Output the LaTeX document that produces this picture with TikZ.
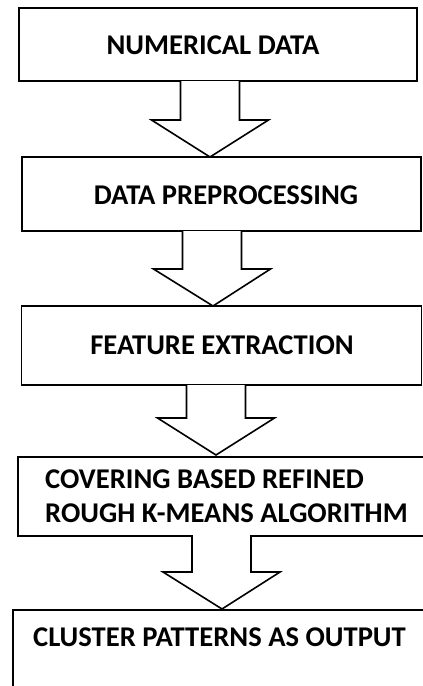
\documentclass[tikz,border=0pt]{standalone}
\usepackage{fontspec}
\setmainfont{Carlito}
\usetikzlibrary{calc}
\begin{document}
\begin{tikzpicture}[x=1pt,y=-1pt,
  box/.style={draw=black, line width=1.8pt, rectangle, inner sep=0pt},
  lbl/.style={inner sep=0pt, align=left, font=\fontsize{28.6}{34}\selectfont\bfseries},
  blk/.style={draw=black, line width=1.6pt, fill=white, line join=miter}]
\useasboundingbox (0,0) rectangle (423,686);
\clip (0,0) rectangle (423,686);
\fill[white] (0,0) rectangle (423,686);
\newcommand\blkarrow[2]{\draw[blk] let \p1=(#1), \p2=(#2) in
  (\x1-29.5pt,\y1) -- (\x1-29.5pt,\y2+37pt) -- (\x1-58.5pt,\y2+37pt) -- (\x2,\y2)
  -- (\x1+58.5pt,\y2+37pt) -- (\x1+29.5pt,\y2+37pt) -- (\x1+29.5pt,\y1);}
% boxes
\node[box, minimum width=398pt, minimum height=73pt] (b1) at (218,44.5) {};
\node[lbl] (b1t) at (213,45) {NUMERICAL DATA};
\node[box, minimum width=399pt, minimum height=74pt] (b2) at (221.5,194) {};
\node[lbl] (b2t) at (226,195) {DATA PREPROCESSING};
\node[box, minimum width=400pt, minimum height=79pt] (b3) at (221.5,345.5) {};
\node[lbl] (b3t) at (222,345) {FEATURE EXTRACTION};
\node[box, minimum width=430pt, minimum height=79pt, anchor=north west] (b4) at (17,456) {};
\node[lbl, anchor=west] (b4t) at (45,496) {COVERING BASED REFINED\\ROUGH K-MEANS ALGORITHM};
\node[box, minimum width=430pt, minimum height=100pt, anchor=north west] (b5) at (12,609) {};
\node[lbl, anchor=west] (b5t) at (33,637) {CLUSTER PATTERNS AS OUTPUT};
% arrow end points
\coordinate (a1s) at (210,81);   \coordinate (a1e) at (210,157);
\coordinate (a2s) at (212,231);  \coordinate (a2e) at (213,306);
\coordinate (a3s) at (216,385);  \coordinate (a3e) at (216,455);
\coordinate (a4s) at (221.5,535);\coordinate (a4e) at (222,609);
\blkarrow{a1s}{a1e}
\blkarrow{a2s}{a2e}
\blkarrow{a3s}{a3e}
\blkarrow{a4s}{a4e}
\end{tikzpicture}
\end{document}
